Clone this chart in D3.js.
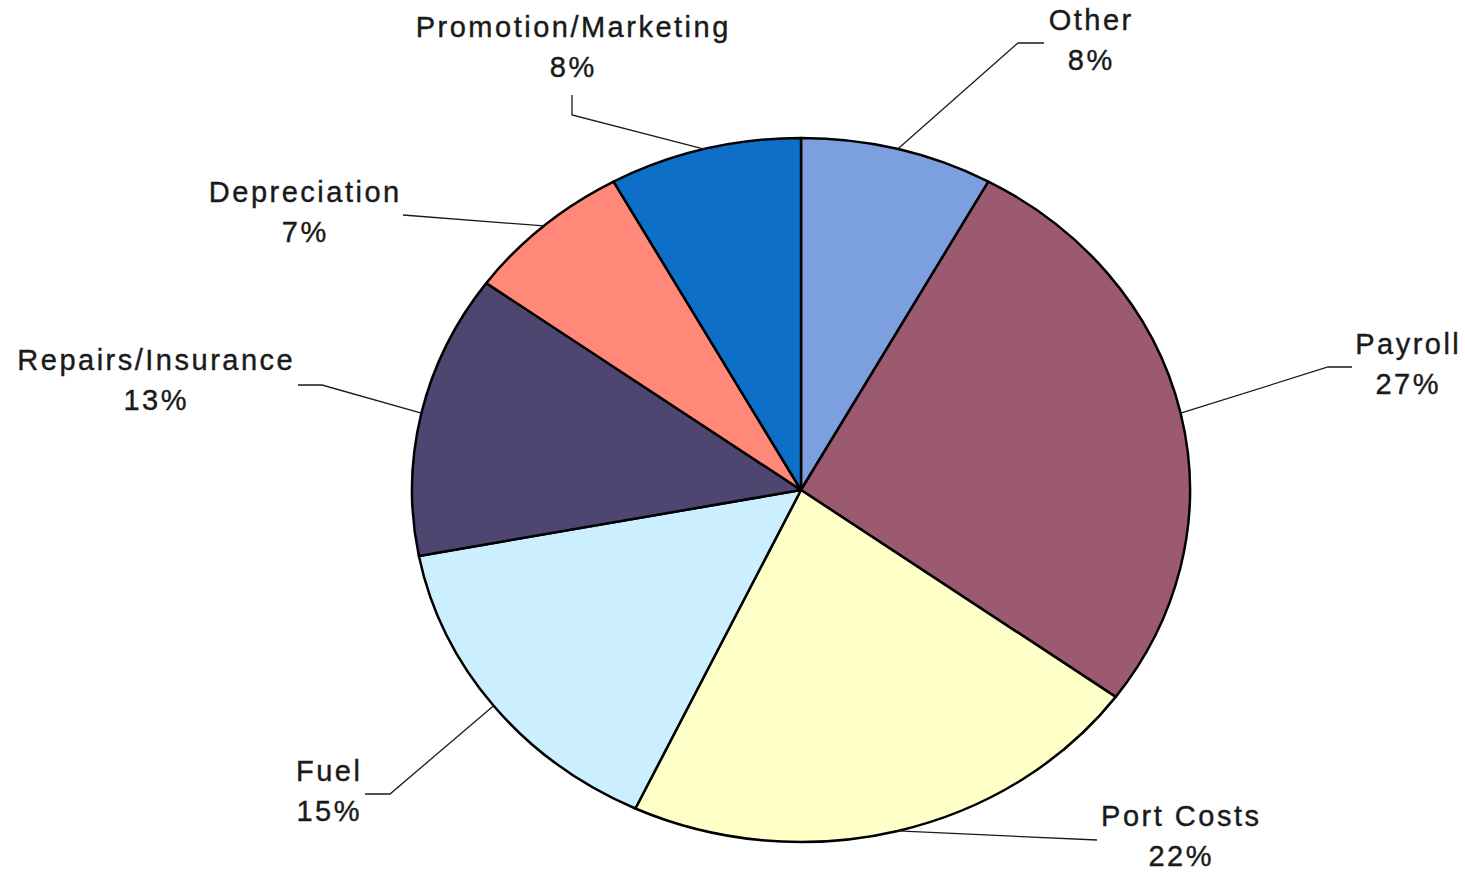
<!DOCTYPE html>
<html>
<head>
<meta charset="utf-8">
<script src="https://cdn.jsdelivr.net/npm/d3@7/dist/d3.min.js"></script>
<style>
  html, body { margin: 0; padding: 0; background: #fff; }
  svg { display: block; }
  text { font-family: "Liberation Sans", Arial, sans-serif; fill: #1a1a1a; }
</style>
</head>
<body>
<svg id="chart" width="1465" height="873"></svg>
<script>
// Operating cost breakdown (share of total, %), clockwise from 12 o'clock
const categories = ["Other", "Payroll", "Port Costs", "Fuel", "Repairs/Insurance", "Depreciation", "Promotion/Marketing"];
const values = [8, 27, 22, 15, 13, 7, 8];
const colors = ["#7c9fe0", "#9b5a70", "#ffffc8", "#ccefff", "#4e4570", "#ff8878", "#0e6fc8"];

// Label placement: text centre, first baseline, and leader elbow point
const labelLayout = {
  "Other":               { x: 1090, y: 30,  elbow: [[1044, 43], [1018, 43]] },
  "Payroll":             { x: 1407, y: 354, elbow: [[1352, 367], [1328, 367]] },
  "Port Costs":          { x: 1180, y: 826, elbow: [[1097, 840]] },
  "Fuel":                { x: 328,  y: 781, elbow: [[365, 794], [390, 794]] },
  "Repairs/Insurance":   { x: 155,  y: 370, elbow: [[298, 385], [322, 385]] },
  "Depreciation":        { x: 304,  y: 202, elbow: [[403, 215]] },
  "Promotion/Marketing": { x: 572,  y: 37,  elbow: [[572, 95], [572, 115]] }
};

const cx = 801, cy = 490, rx = 389, ry = 352;
const data = categories.map((c, i) => ({ name: c, value: values[i], color: colors[i] }));

const svg = d3.select("#chart");
const pie = d3.pie().value(d => d.value).sort(null);
const arcs = pie(data);
const arc = d3.arc().innerRadius(0).outerRadius(rx);

// Slices drawn on a circle and squashed vertically into an ellipse
const g = svg.append("g").attr("transform", `translate(${cx},${cy}) scale(1,${ry / rx})`);
g.selectAll("path")
  .data(arcs)
  .join("path")
  .attr("d", arc)
  .attr("fill", d => d.data.color)
  .attr("stroke", "#000")
  .attr("stroke-width", 2.5)
  .attr("stroke-linejoin", "round")
  .attr("vector-effect", "non-scaling-stroke");

// Leader lines from each slice's mid-angle on the rim to its label
const lines = svg.append("g");
arcs.forEach(d => {
  const mid = (d.startAngle + d.endAngle) / 2;
  const rim = [cx + rx * Math.sin(mid), cy - ry * Math.cos(mid)];
  const lay = labelLayout[d.data.name];
  const pts = [...lay.elbow, rim];
  lines.append("path")
    .attr("d", d3.line()(pts))
    .attr("fill", "none")
    .attr("stroke", "#1a1a1a")
    .attr("stroke-width", 1.3);
});

// Category name and percentage labels
const spacing = 2.5;
const labels = svg.append("g");
arcs.forEach(d => {
  const lay = labelLayout[d.data.name];
  const x = lay.x + spacing / 2;
  const t = labels.append("text")
    .attr("x", x)
    .attr("y", lay.y)
    .attr("text-anchor", "middle")
    .attr("font-size", 29)
    .attr("letter-spacing", spacing)
    .attr("stroke", "#1a1a1a")
    .attr("stroke-width", 0.4);
  t.append("tspan").attr("x", x).text(d.data.name);
  t.append("tspan").attr("x", x).attr("dy", 40).text(d3.format(".0f")(d.data.value) + "%");
});
</script>
</body>
</html>
